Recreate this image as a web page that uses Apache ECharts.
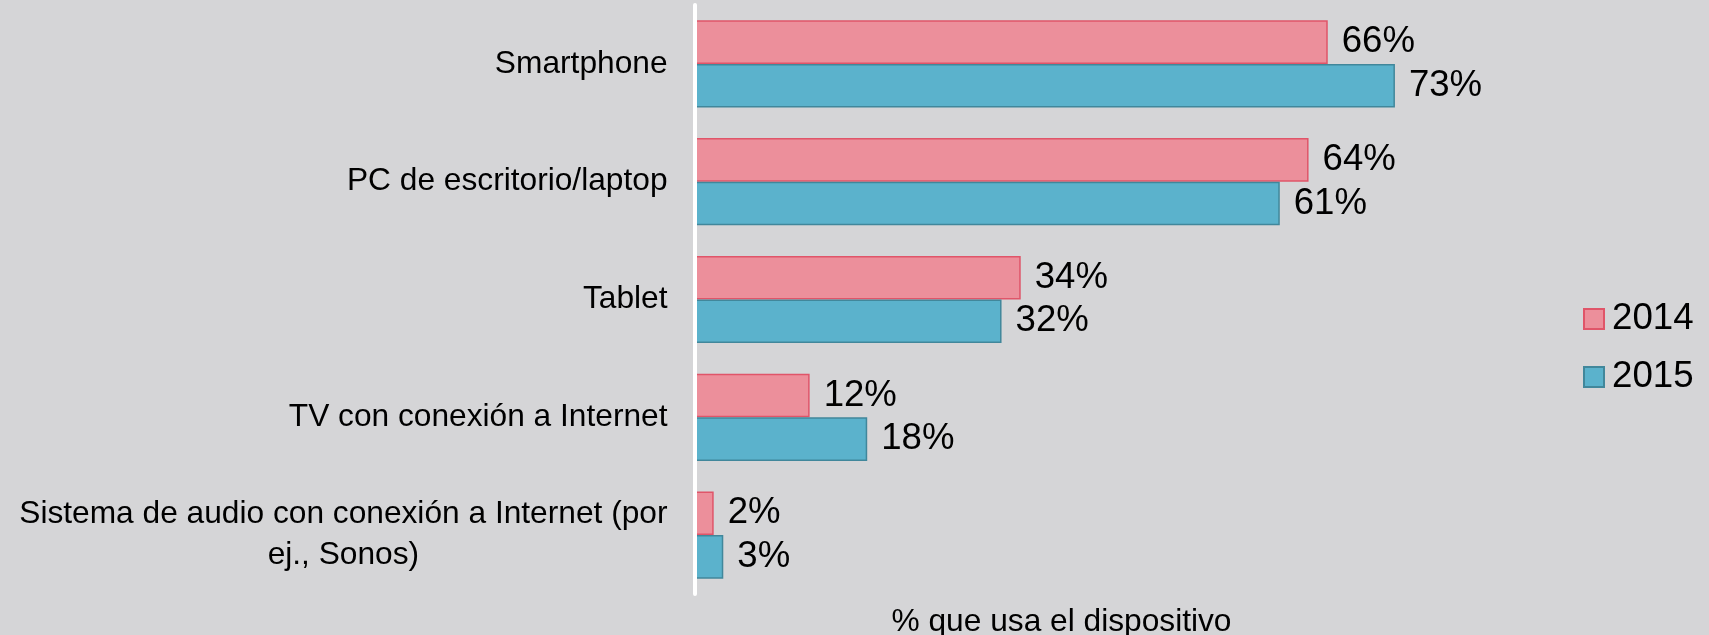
<!DOCTYPE html>
<html>
<head>
<meta charset="utf-8">
<script src="https://cdn.jsdelivr.net/npm/echarts@6/dist/echarts.min.js"></script>
<style>
html,body{margin:0;padding:0;background:#D5D5D7;}
#c{width:1709px;height:635px;}
</style>
</head>
<body>
<div id="c"></div>
<script>
const categories = [
  'Smartphone',
  'PC de escritorio/laptop',
  'Tablet',
  'TV con conexión a Internet',
  'Sistema de audio con conexión a Internet (por\nej., Sonos)'
];
const values2014 = [66, 64, 34, 12, 2];
const values2015 = [73, 61, 32, 18, 3];
const seriesNames = ['2014', '2015'];
const axisTitle = '% que usa el dispositivo';

const FONT = '"Liberation Sans", Arial, sans-serif';
const chart = echarts.init(document.getElementById('c'), null, {renderer: 'canvas'});

const labelStyle = {
  show: true,
  position: 'right',
  distance: 14,
  formatter: p => p.value + '%',
  color: '#000',
  fontSize: 36.6,
  fontFamily: FONT
};

chart.setOption({
  backgroundColor: '#D5D5D7',
  animation: false,
  grid: {left: 694.5, top: 5, width: 734, height: 589, outerBoundsMode: 'none', containLabel: false},
  legend: {
    orient: 'vertical',
    left: 1578,
    top: 295.5,
    itemWidth: 20,
    itemHeight: 20,
    itemGap: 21,
    icon: 'rect',
    itemStyle: {borderWidth: 2},
    textStyle: {fontSize: 36.7, color: '#000', fontFamily: FONT, padding: [0, 0, 0, 3]},
    data: seriesNames
  },
  xAxis: {
    type: 'value',
    min: 0,
    max: 76.5,
    axisLine: {show: false},
    axisTick: {show: false},
    axisLabel: {show: false},
    splitLine: {show: false},
    name: axisTitle,
    nameLocation: 'middle',
    nameGap: 12.5,
    nameTextStyle: {fontSize: 31.7, color: '#000', fontFamily: FONT, verticalAlign: 'top'}
  },
  yAxis: {
    type: 'category',
    inverse: true,
    data: categories,
    axisLine: {show: true, lineStyle: {color: '#FFFFFF', width: 4}},
    axisTick: {show: false},
    axisLabel: {
      margin: 27,
      color: '#000',
      fontSize: 31.7,
      fontFamily: FONT,
      lineHeight: 40,
      formatter: function (v) {
        return v.split('\n').map(s => '{c|' + s + '}').join('\n');
      },
      rich: {
        c: {align: 'center', fontSize: 31.7, fontFamily: FONT, color: '#000', lineHeight: 41}
      }
    },
    z: 10
  },
  series: [
    {
      name: seriesNames[0],
      type: 'bar',
      data: values2014,
      barGap: '0%',
      barCategoryGap: '26%',
      itemStyle: {color: '#EC8F9B', borderColor: '#E05569', borderWidth: 1.5},
      label: labelStyle,
      z: 2
    },
    {
      name: seriesNames[1],
      type: 'bar',
      data: values2015,
      barGap: '0%',
      barCategoryGap: '26%',
      itemStyle: {color: '#5BB2CC', borderColor: '#41879B', borderWidth: 1.5},
      label: labelStyle,
      z: 2
    }
  ]
});
</script>
</body>
</html>
